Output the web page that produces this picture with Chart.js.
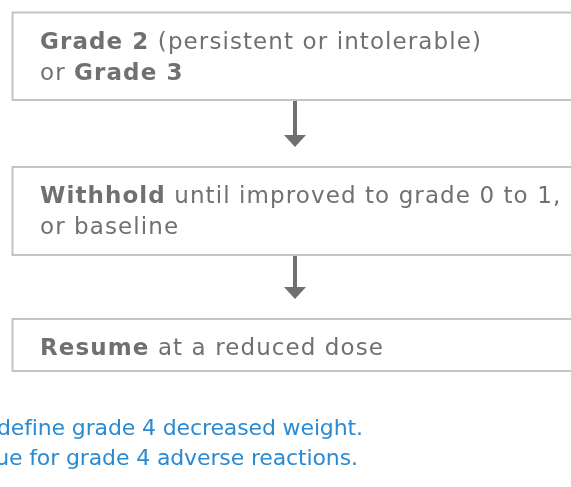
<!DOCTYPE html>
<html>
<head>
<meta charset="utf-8">
<script src="https://cdn.jsdelivr.net/npm/chart.js@4.4.1/dist/chart.umd.min.js"></script>
<style>
  html, body { margin: 0; padding: 0; background: #fff; }
  #wrap { width: 571px; height: 487px; }
</style>
</head>
<body>
<div id="wrap"><canvas id="flow" width="571" height="487"></canvas></div>
<script>
// Flow steps: bold lead word(s) and the rest of each line
const stepLines = [
  [
    [{ text: "Grade 2", bold: true }, { text: " (persistent or intolerable)" }],
    [{ text: "or " }, { text: "Grade 3", bold: true }],
  ],
  [
    [{ text: "Withhold", bold: true }, { text: " until improved to grade 0 to 1," }],
    [{ text: "or baseline" }],
  ],
  [
    [{ text: "Resume", bold: true }, { text: " at a reduced dose" }],
  ],
];

// Footnote lines (clipped on the left in the source)
const notes = [
  "define grade 4 decreased weight.",
  "ue for grade 4 adverse reactions.",
];

// Layout (scale units = page pixels)
const boxTop = [12.5, 167, 319];
const boxBottom = [100, 255, 371];
const boxLeft = 12.5;
const boxRight = 600;
const textLeft = 40;
const firstBaseline = 36; // below box top
const lineGap = 31;
const fitWidth = 442; // width of the first box line in the source
const arrowX = 295;
const noteRight = [363, 358];
const noteBase = [435, 465];
const noteFitWidth = 366;

const GRAY = "#707073";
const BORDER = "#c4c4c4";
const BLUE = "#2a8ad2";
const FONT = "'DejaVu Sans', sans-serif";
const SIZE = 23;
const NOTE_SIZE = 22;

function runWidth(ctx, runs, size) {
  let w = 0;
  runs.forEach((r) => {
    ctx.font = (r.bold ? "bold " : "") + size + "px " + FONT;
    w += ctx.measureText(r.text).width;
  });
  return w;
}

const flowPlugin = {
  id: "flow",
  afterDraw(chart) {
    const { ctx } = chart;
    const xs = chart.scales.x;
    const ys = chart.scales.y;
    const px = (v) => xs.getPixelForValue(v);
    const py = (v) => ys.getPixelForValue(v);

    ctx.save();
    ctx.textBaseline = "alphabetic";

    // letter spacing so the text runs as wide as the source face
    ctx.letterSpacing = "0px";
    const first = stepLines[0][0];
    const nChars = first.reduce((n, r) => n + r.text.length, 0);
    const spacing = (fitWidth - runWidth(ctx, first, SIZE)) / nChars;

    // boxes
    stepLines.forEach((lines, i) => {
      ctx.lineWidth = 2;
      ctx.strokeStyle = BORDER;
      ctx.strokeRect(px(boxLeft), py(boxTop[i]), px(boxRight) - px(boxLeft), py(boxBottom[i]) - py(boxTop[i]));

      ctx.letterSpacing = spacing.toFixed(2) + "px";
      lines.forEach((runs, j) => {
        let x = px(textLeft);
        const y = py(boxTop[i] + firstBaseline + j * lineGap);
        runs.forEach((r) => {
          ctx.font = (r.bold ? "bold " : "") + SIZE + "px " + FONT;
          ctx.fillStyle = GRAY;
          ctx.fillText(r.text, x, y);
          x += ctx.measureText(r.text).width;
        });
      });
      ctx.letterSpacing = "0px";
    });

    // arrows between boxes
    for (let i = 0; i < boxTop.length - 1; i++) {
      const y0 = py(boxBottom[i] + 1);
      const yHead = py(boxTop[i + 1] - 32);
      const yTip = py(boxTop[i + 1] - 20);
      ctx.fillStyle = GRAY;
      ctx.fillRect(px(arrowX) - 2, y0, 4, yHead - y0);
      ctx.beginPath();
      ctx.moveTo(px(arrowX) - 11, yHead);
      ctx.lineTo(px(arrowX) + 11, yHead);
      ctx.lineTo(px(arrowX), yTip);
      ctx.closePath();
      ctx.fill();
    }

    // footnotes
    ctx.font = NOTE_SIZE + "px " + FONT;
    const noteSpacing = (noteFitWidth - ctx.measureText(notes[0]).width) / notes[0].length;
    ctx.letterSpacing = noteSpacing.toFixed(2) + "px";
    ctx.fillStyle = BLUE;
    ctx.textAlign = "right";
    notes.forEach((t, i) => {
      ctx.fillText(t, px(noteRight[i]) + noteSpacing, py(noteBase[i]));
    });

    ctx.restore();
  },
};

new Chart(document.getElementById("flow"), {
  type: "scatter",
  data: { datasets: [] },
  options: {
    responsive: false,
    animation: false,
    devicePixelRatio: 1,
    layout: { padding: 0 },
    plugins: { legend: { display: false }, tooltip: { enabled: false } },
    scales: {
      x: { type: "linear", min: 0, max: 571, display: false },
      y: { type: "linear", min: 0, max: 487, reverse: true, display: false },
    },
  },
  plugins: [flowPlugin],
});
</script>
</body>
</html>
